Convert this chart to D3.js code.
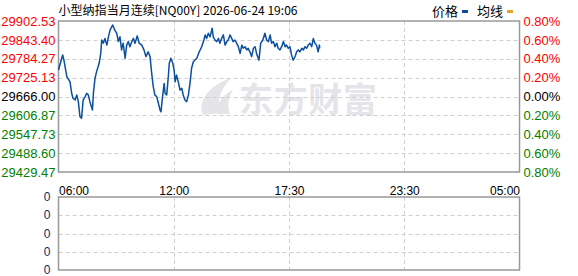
<!DOCTYPE html>
<html>
<head>
<meta charset="utf-8">
<script src="https://cdn.jsdelivr.net/npm/d3@7"></script>
<style>
    body { margin: 0; background: #fff; }
    svg { display: block; }
</style>
</head>
<body>
<div id="chart-container"></div>
<script>
const titleText = "小型纳指当月连续[NQ00Y] 2026-06-24 19:06";
const basePrice = 29666.00;
const priceTicks = [29902.53, 29843.40, 29784.27, 29725.13, 29666.00, 29606.87, 29547.73, 29488.60, 29429.47];
const pctTicks = ["0.80%", "0.60%", "0.40%", "0.20%", "0.00%", "0.20%", "0.40%", "0.60%", "0.80%"];
const timeTicks = ["06:00", "12:00", "17:30", "23:30", "05:00"];
const volTicks = ["0", "0", "0", "0", "0"];

const times = [
    "06:00", "06:13", "06:17", "06:26", "06:36", "06:41", "06:45", "06:52", "06:57", "07:02",
    "07:07", "07:12", "07:17", "07:23", "07:28", "07:33", "07:38", "07:46", "07:49", "07:54",
    "07:59", "08:07", "08:12", "08:15", "08:20", "08:25", "08:31", "08:36", "08:41", "08:49",
    "08:56", "09:02", "09:07", "09:12", "09:17", "09:22", "09:28", "09:33", "09:38", "09:43",
    "09:49", "09:54", "09:59", "10:06", "10:12", "10:20", "10:27", "10:33", "10:40", "10:46",
    "10:51", "10:56", "11:01", "11:07", "11:12", "11:17", "11:20", "11:25", "11:30", "11:33",
    "11:38", "11:43", "11:46", "11:51", "11:57", "12:01", "12:04", "12:08", "12:13", "12:18",
    "12:23", "12:27", "12:32", "12:37", "12:42", "12:47", "12:51", "12:56", "13:06", "13:13",
    "13:20", "13:25", "13:30", "13:34", "13:39", "13:44", "13:50", "13:53", "13:58", "14:03",
    "14:08", "14:12", "14:17", "14:22", "14:27", "14:32", "14:36", "14:41", "14:46", "14:50",
    "14:55", "15:00", "15:05", "15:10", "15:15", "15:19", "15:24", "15:29", "15:33", "15:38",
    "15:43", "15:48", "15:53", "15:57", "16:04", "16:09", "16:15", "16:21", "16:26", "16:31",
    "16:36", "16:40", "16:45", "16:50", "16:55", "16:59", "17:04", "17:09", "17:14", "17:19",
    "17:23", "17:28", "17:33", "17:38", "17:43", "17:49", "17:54", "17:59", "18:04", "18:10",
    "18:15", "18:20", "18:25", "18:30", "18:35", "18:41", "18:46", "18:51", "18:56", "19:01",
    "19:05", "19:06"
];
const prices = [
    29749, 29796, 29780, 29728, 29712, 29677, 29661, 29655, 29671, 29650,
    29603, 29598, 29655, 29665, 29676, 29671, 29650, 29624, 29676, 29723,
    29744, 29770, 29801, 29843, 29833, 29848, 29827, 29853, 29874, 29890,
    29874, 29864, 29838, 29853, 29812, 29833, 29786, 29827, 29838, 29822,
    29838, 29848, 29833, 29856, 29833, 29827, 29812, 29791, 29806, 29791,
    29739, 29697, 29671, 29665, 29645, 29624, 29618, 29665, 29707, 29676,
    29671, 29728, 29770, 29786, 29770, 29749, 29712, 29733, 29712, 29686,
    29692, 29671, 29655, 29650, 29671, 29712, 29754, 29775, 29786, 29806,
    29822, 29838, 29859, 29848, 29864, 29853, 29880, 29853, 29843, 29838,
    29848, 29833, 29848, 29859, 29827, 29838, 29843, 29859, 29848, 29838,
    29843, 29833, 29822, 29801, 29827, 29817, 29822, 29812, 29817, 29806,
    29791, 29817, 29822, 29801, 29780, 29833, 29843, 29864, 29843, 29838,
    29859, 29833, 29838, 29822, 29833, 29817, 29812, 29822, 29838, 29822,
    29827, 29817, 29822, 29796, 29780, 29791, 29806, 29812, 29806, 29817,
    29812, 29822, 29817, 29827, 29833, 29822, 29848, 29833, 29827, 29806,
    29827, 29817
];

const chartWidth = 578;
const chartHeight = 276;
const mainBox = {left: 58.5, right: 519.5, top: 21, bottom: 172};
const volBox = {left: 58.5, right: 519.5, top: 197, bottom: 270};
const lineColor = "#0b4f9e";
const avgColor = "#e0a526";
const gridColor = "#cfcfcf";
const borderColor = "#999";
const upColor = "#ff0000";
const downColor = "#008000";

/**
 * minutes since 06:00 of the session (after midnight rolls over)
 */
function toMinutes(t) {
    const [h, m] = t.split(":").map(Number);
    let total = h * 60 + m - 360;
    if (total < 0) total += 1440;
    return total;
}

function tickColor(i, mid) {
    if (i < mid) return upColor;
    if (i > mid) return downColor;
    return "#000";
}

function createScales() {
    // labels sit at equal spacing even though the sessions differ in length
    const xScale = d3.scaleLinear()
        .domain(timeTicks.map((t, i) => i === timeTicks.length - 1 ? 1380 : toMinutes(t)))
        .range(d3.range(timeTicks.length).map(i => mainBox.left + i * (mainBox.right - mainBox.left) / (timeTicks.length - 1)));

    const yScale = d3.scaleLinear()
        .domain([priceTicks[priceTicks.length - 1], priceTicks[0]])
        .range([mainBox.bottom, mainBox.top]);

    const yVol = d3.scalePoint()
        .domain(d3.range(volTicks.length))
        .range([volBox.top, volBox.bottom]);

    return {xScale, yScale, yVol};
}

function drawGrid(svg, xScale, yScale, yVol) {
    const grid = svg.append("g")
        .attr("stroke", gridColor)
        .attr("stroke-dasharray", "4,3")
        .attr("stroke-width", 1);

    priceTicks.slice(1, -1).forEach(v => {
        const y = Math.round(yScale(v)) + 0.5;
        grid.append("line").attr("x1", mainBox.left).attr("x2", mainBox.right).attr("y1", y).attr("y2", y);
    });
    volTicks.slice(1, -1).forEach((v, i) => {
        const y = Math.round(yVol(i + 1)) + 0.5;
        grid.append("line").attr("x1", volBox.left).attr("x2", volBox.right).attr("y1", y).attr("y2", y);
    });
    xScale.domain().slice(1, -1).forEach(m => {
        const x = Math.round(xScale(m)) + 0.5;
        grid.append("line").attr("x1", x).attr("x2", x).attr("y1", mainBox.top).attr("y2", mainBox.bottom);
        grid.append("line").attr("x1", x).attr("x2", x).attr("y1", volBox.top).attr("y2", volBox.bottom);
    });

    [mainBox, volBox].forEach(b => {
        svg.append("rect")
            .attr("x", b.left).attr("y", b.top)
            .attr("width", b.right - b.left).attr("height", b.bottom - b.top)
            .attr("fill", "none")
            .attr("stroke", borderColor)
            .attr("stroke-width", 1.5);
    });
}

function drawWatermark(svg) {
    const wm = svg.append("g").attr("fill", "#e4e4e9");
    wm.append("path")
        .attr("d", "M203,115 C197,102 208,86 231,78 C221,89 216,101 220,113 Z");
    wm.append("path")
        .attr("d", "M218,114 C215,104 222,95 233,90 C228,98 227,106 230,114 Z");
    wm.append("text")
        .attr("x", 239)
        .attr("y", 112)
        .attr("font-family", "Noto Sans CJK SC")
        .attr("font-weight", "bold")
        .attr("font-size", 34)
        .attr("textLength", 138)
        .attr("lengthAdjust", "spacing")
        .text("东方财富");
}

function drawAxes(svg, xScale, yScale, yVol) {
    const mid = Math.floor(priceTicks.length / 2);

    const left = svg.append("g")
        .attr("transform", `translate(${mainBox.left - 3},0)`)
        .call(d3.axisLeft(yScale).tickValues(priceTicks).tickSize(0).tickPadding(0).tickFormat(d3.format(".2f")));
    left.select(".domain").remove();
    left.selectAll("text")
        .attr("font-family", "Liberation Sans, Arial, sans-serif")
        .attr("font-size", 13)
        .attr("fill", (d, i) => tickColor(i, mid));

    const right = svg.append("g")
        .attr("transform", `translate(${mainBox.right + 4},0)`)
        .call(d3.axisRight(yScale).tickValues(priceTicks).tickSize(0).tickPadding(0).tickFormat((d, i) => pctTicks[i]));
    right.select(".domain").remove();
    right.selectAll("text")
        .attr("font-family", "Liberation Sans, Arial, sans-serif")
        .attr("font-size", 13)
        .attr("fill", (d, i) => tickColor(i, mid));

    const bottom = svg.append("g")
        .attr("transform", `translate(0,${mainBox.bottom})`)
        .call(d3.axisBottom(xScale).tickValues(xScale.domain()).tickSize(0).tickPadding(14).tickFormat((d, i) => timeTicks[i]));
    bottom.select(".domain").remove();
    bottom.selectAll("text")
        .attr("font-family", "Liberation Sans, Arial, sans-serif")
        .attr("font-size", 12)
        .attr("fill", "#000")
        .attr("text-anchor", (d, i) => i === 0 ? "start" : (i === timeTicks.length - 1 ? "end" : "middle"));

    const vol = svg.append("g")
        .attr("transform", `translate(${volBox.left - 8},0)`)
        .call(d3.axisLeft(yVol).tickSize(0).tickPadding(0).tickFormat((d, i) => volTicks[i]));
    vol.select(".domain").remove();
    vol.selectAll("text")
        .attr("font-family", "Liberation Sans, Arial, sans-serif")
        .attr("font-size", 12)
        .attr("dy", "0.3em")
        .attr("fill", "#0a2b6e");
}

function drawTitle(svg) {
    svg.append("text")
        .attr("x", mainBox.left)
        .attr("y", 15)
        .attr("font-family", "Noto Sans CJK SC")
        .attr("font-size", 12)
        .attr("textLength", 239)
        .attr("lengthAdjust", "spacingAndGlyphs")
        .attr("fill", "#000")
        .text(titleText);

    const legend = svg.append("g")
        .attr("font-family", "Noto Sans CJK SC")
        .attr("font-size", 13)
        .attr("fill", "#000");
    legend.append("text").attr("x", 432).attr("y", 16).text("价格");
    legend.append("rect").attr("x", 462).attr("y", 10).attr("width", 6).attr("height", 3).attr("fill", lineColor);
    legend.append("text").attr("x", 477).attr("y", 16).text("均线");
    legend.append("rect").attr("x", 507).attr("y", 10).attr("width", 6).attr("height", 3).attr("fill", avgColor);
}

function drawPriceLine(svg, xScale, yScale) {
    const data = times.map((t, i) => ({m: toMinutes(t), v: prices[i]}));
    const line = d3.line()
        .x(d => xScale(d.m))
        .y(d => yScale(d.v));

    svg.append("path")
        .datum(data)
        .attr("fill", "none")
        .attr("stroke", lineColor)
        .attr("stroke-width", 1.5)
        .attr("stroke-linejoin", "round")
        .attr("d", line);
}

const svg = d3.select("#chart-container").append("svg")
    .attr("width", chartWidth)
    .attr("height", chartHeight);

const {xScale, yScale, yVol} = createScales();
drawWatermark(svg);
drawGrid(svg, xScale, yScale, yVol);
drawAxes(svg, xScale, yScale, yVol);
drawTitle(svg);
drawPriceLine(svg, xScale, yScale);
</script>
</body>
</html>
